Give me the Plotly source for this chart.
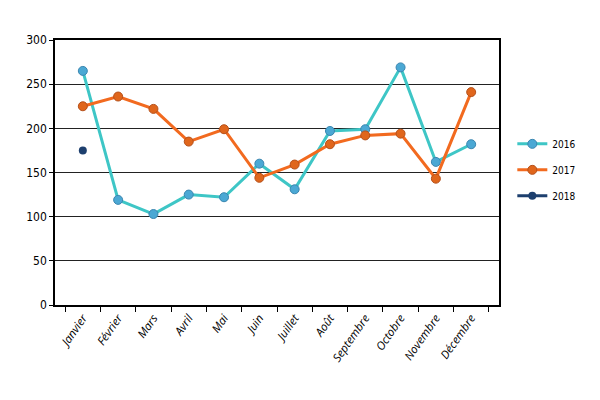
import plotly.graph_objects as go

mois = ["Janvier", "Février", "Mars", "Avril", "Mai", "Juin", "Juillet",
        "Août", "Septembre", "Octobre", "Novembre", "Décembre"]

v2016 = [265, 119, 103, 125, 122, 160, 131, 197, 199, 269, 162, 182]
v2017 = [225, 236, 222, 185, 199, 144, 159, 182, 192, 194, 143, 241]
v2018 = [175]

fig = go.Figure()

# 2016 - turquoise line, blue markers
fig.add_trace(go.Scatter(
    x=mois, y=v2016, name="2016", mode="lines+markers", legendgroup="a",
    line=dict(color="#3EC6C6", width=3),
    marker=dict(color="#4BA8D4", size=9, line=dict(color="#3A86B0", width=1)),
))
# 2017 - orange
fig.add_trace(go.Scatter(
    x=mois, y=v2017, name="2017", mode="lines+markers", legendgroup="b",
    line=dict(color="#F26A1F", width=3),
    marker=dict(color="#E0661C", size=9, line=dict(color="#B5501A", width=1)),
))
# 2018 - only janvier
fig.add_trace(go.Scatter(
    x=mois[:len(v2018)], y=v2018, name="2018", mode="lines+markers", legendgroup="c",
    line=dict(color="#1D3F6E", width=3),
    marker=dict(color="#1D3F6E", size=8),
))

# page body adds ~8px offset, so margins are shifted
fig.update_layout(
    width=600, height=400,
    margin=dict(l=47, r=109, t=32, b=103),
    paper_bgcolor="white", plot_bgcolor="white",
    font=dict(family="DejaVu Sans Condensed, DejaVu Sans", size=11, color="black"),
    legend=dict(x=1.03, y=0.51, yanchor="middle", xanchor="left",
                traceorder="grouped", tracegroupgap=7,
                font=dict(size=10, color="black")),
    showlegend=True,
)

fig.update_xaxes(
    type="category", showgrid=False,
    tickvals=mois, ticktext=["<i>" + m + "</i>" for m in mois],
    showline=True, linecolor="black", linewidth=1.5, mirror=True,
    ticks="outside", tickson="boundaries", ticklen=5, tickcolor="black",
    tickangle=-55, tickfont=dict(family="Open Sans", size=11.5, style="italic"),
)
fig.update_yaxes(
    range=[0, 300], dtick=50,
    showgrid=True, gridcolor="#222222", gridwidth=1,
    showline=True, linecolor="black", linewidth=1.5, mirror=True,
    ticks="outside", ticklen=4, tickcolor="black",
    tickfont=dict(size=12), zeroline=False,
)

fig.write_html("out.html")
